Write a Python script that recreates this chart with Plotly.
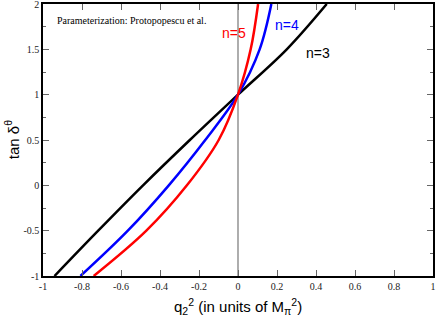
import plotly.graph_objects as go

# Read-off points (q2^2, tan delta) for each curve
t_grid = [-1.0, -0.5, 0.0, 0.5, 1.0, 1.5, 2.0]
q_n3 = [-0.941, -0.717, -0.487, -0.247, 0.0, 0.25, 0.455]
q_n4 = [-0.808, -0.565, -0.355, -0.168, 0.0, 0.111, 0.171]
q_n5 = [-0.74, -0.47, -0.262, -0.099, 0.0, 0.065, 0.103]

series = [
    ("n=3", q_n3, t_grid, "black"),
    ("n=4", q_n4, t_grid, "blue"),
    ("n=5", q_n5, t_grid, "red"),
]

labels = [("n=5", -0.02, 1.68, "red"), ("n=4", 0.25, 1.77, "blue"), ("n=3", 0.41, 1.46, "black")]

x_ticks = [-1, -0.8, -0.6, -0.4, -0.2, 0, 0.2, 0.4, 0.6, 0.8, 1]
y_ticks = [-1, -0.5, 0, 0.5, 1, 1.5, 2]

fig = go.Figure()
for name, q, t, c in series:
    fig.add_trace(go.Scatter(x=q, y=t, mode="lines", line=dict(color=c, width=2.5, shape="spline"),
                             name=name, showlegend=False, cliponaxis=True))

fig.add_shape(type="line", x0=0, x1=0, y0=-1, y1=2, xref="x", yref="y",
              line=dict(color="#777", width=1.2), layer="below")

for txt, x, y, c in labels:
    fig.add_annotation(x=x, y=y, text=txt, showarrow=False, xref="x", yref="y",
                       font=dict(family="Liberation Sans", size=14, color=c))

fig.add_annotation(x=-0.94, y=1.82, xanchor="left", text="Parameterization: Protopopescu et al.",
                   showarrow=False, xref="x", yref="y",
                   font=dict(family="Liberation Serif", size=10, color="black"))

# axis titles as annotations
fig.add_annotation(x=0.5, y=-0.065, xref="paper", yref="paper", yanchor="top", showarrow=False,
                   text="q<sub>2</sub><sup>2</sup> (in units of M<sub>π</sub><sup>2</sup>)",
                   font=dict(family="Liberation Sans", size=15, color="black"))
fig.add_annotation(x=-0.052, y=0.5, xref="paper", yref="paper", xanchor="right", showarrow=False,
                   text="tan δ<sup>θ</sup>", textangle=-90,
                   font=dict(family="Liberation Sans", size=15, color="black"))

tickfont = dict(family="Liberation Serif", size=10, color="#222")
fig.update_xaxes(range=[-1, 1], tickvals=x_ticks, ticktext=[f"{v:g}" for v in x_ticks],
                 showline=True, linecolor="black", linewidth=1.5, mirror="ticks",
                 ticks="inside", ticklen=6, tickcolor="#666", tickwidth=1.2,
                 showgrid=False, zeroline=False, tickfont=tickfont, automargin=False,
                 ticklabeloverflow="allow")
fig.update_yaxes(range=[-1, 2], tickvals=y_ticks, ticktext=[f"{v:g}" for v in y_ticks],
                 showline=True, linecolor="black", linewidth=1.5, mirror="ticks",
                 ticks="inside", ticklen=6, tickcolor="#666", tickwidth=1.2,
                 minor=dict(dtick=0.25, ticks="inside", ticklen=3, tickcolor="#666", tickwidth=1.2),
                 showgrid=False, zeroline=False, tickfont=tickfont, automargin=False,
                 ticklabeloverflow="allow")

fig.update_layout(width=436, height=318, margin=dict(l=43, r=3, t=4, b=42),
                  plot_bgcolor="white", paper_bgcolor="white")

fig.write_html("out.html", config={"displayModeBar": False},
               post_script="document.body.style.margin='0';document.body.style.overflow='hidden';")
